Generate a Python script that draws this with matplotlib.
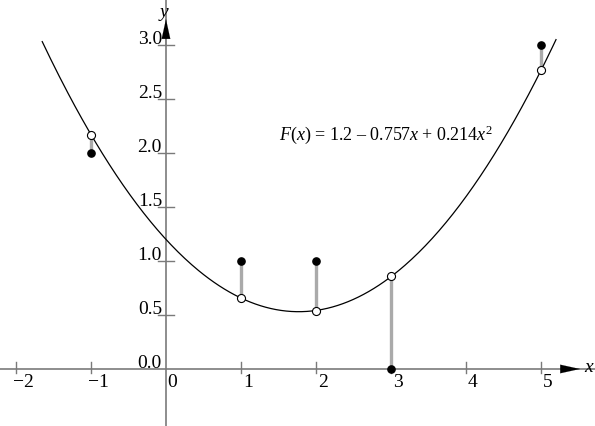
import matplotlib
matplotlib.use("Agg")
import matplotlib.pyplot as plt
import numpy as np

# data points and the least squares fit
xs = [-1, 1, 2, 3, 5]
ys = [2.0, 1.0, 1.0, 0.0, 3.0]
fit = [2.17, 0.66, 0.54, 0.86, 2.77]
coef = [1.2, -0.757, 0.214]
curve_range = [-1.65, 5.2]

xticks = [-2, -1, 0, 1, 2, 3, 4, 5]
yticks = [0.0, 0.5, 1.0, 1.5, 2.0, 2.5, 3.0]

plt.rcParams['font.family'] = ['Liberation Serif', 'DejaVu Serif']
plt.rcParams['mathtext.fontset'] = 'custom'
plt.rcParams['mathtext.rm'] = 'Liberation Serif'
plt.rcParams['mathtext.it'] = 'Liberation Serif:italic'

fig = plt.figure(figsize=(5.95, 4.26), dpi=100)
ax = fig.add_axes([0, 0, 1, 1])
ax.set_xlim(-2.213, 5.72)
ax.set_ylim(-0.528, 3.417)
ax.axis('off')

axcol = '#7a7a7a'
ax.axhline(0, color=axcol, lw=1.2, zorder=1)
ax.axvline(0, color=axcol, lw=1.2, zorder=1)
head = dict(arrowstyle='-|>,head_length=1.0,head_width=0.22', color='black', lw=0.1,
            shrinkA=0, shrinkB=0, mutation_scale=14)
ax.annotate('', xy=(5.52, 0), xytext=(5.3, 0), arrowprops=head)
ax.annotate('', xy=(0, 3.24), xytext=(0, 3.0), arrowprops=head)

# ticks
for t in xticks:
    if t == 0:
        continue
    ax.plot([t, t], [0.065, -0.037], color=axcol, lw=1.0, zorder=1)
    ax.annotate('\u2212%d' % -t if t < 0 else str(t), (t, 0), xytext=(-3 if t < 0 else 2, -5),
                textcoords='offset pixels', ha='left', va='top', fontsize=14)
ax.annotate('0', (0, 0), xytext=(1, -5), textcoords='offset pixels', ha='left', va='top', fontsize=14)
for t in yticks:
    if t > 0:
        ax.plot([-0.107, 0.107], [t, t], color=axcol, lw=1.0, zorder=1)
    ax.annotate('%.1f' % t, (0, t), xytext=(-4, 1), textcoords='offset pixels',
                ha='right', va='baseline', fontsize=14)

ax.text(5.58, 0.01, 'x', style='italic', fontsize=14, ha='left', va='center')
ax.text(-0.03, 3.3, 'y', style='italic', fontsize=14, ha='center', va='center')

# residual stems
for x, y, f in zip(xs, ys, fit):
    ax.plot([x, x], [y, f], color='#aaaaaa', lw=2.4, zorder=2, solid_capstyle='butt')

xx = np.linspace(curve_range[0], curve_range[1], 300)
ax.plot(xx, coef[0] + coef[1] * xx + coef[2] * xx ** 2, color='black', lw=0.9, zorder=3)

ax.plot(xs, ys, 'o', color='black', ms=5.2, zorder=4)
ax.plot(xs, fit, 'o', mfc='white', mec='black', mew=0.8, ms=5.8, zorder=4)

ax.text(1.51, 2.12, '$F(x)$ = 1.2 \u2013 0.757$x$ + 0.214$x^{2}$',
        fontsize=13, ha='left', va='baseline')

fig.savefig('out.png', dpi=100)
